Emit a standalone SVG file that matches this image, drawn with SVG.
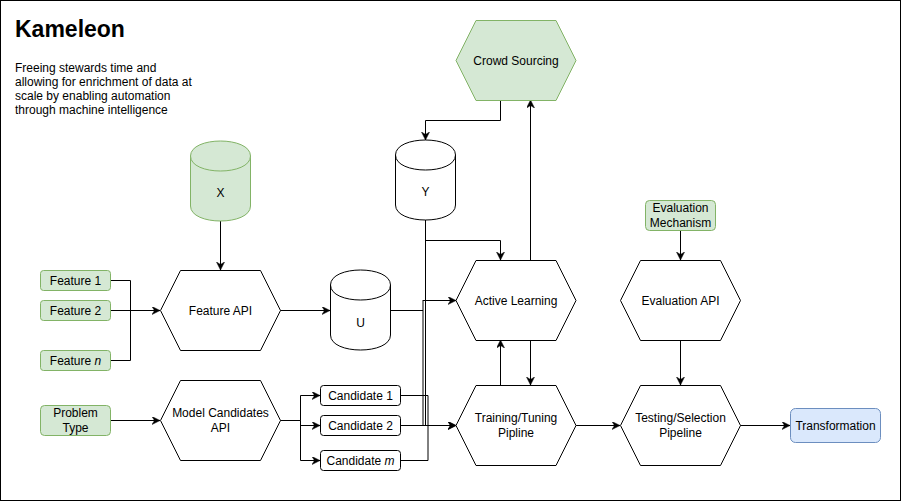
<svg xmlns="http://www.w3.org/2000/svg" width="901" height="501" viewBox="0 0 901 501">
<style>
text{font-family:"Liberation Sans",Arial,Helvetica,sans-serif;font-size:12px;fill:#000}
.c{text-anchor:middle}
.hex{fill:#fff;stroke:#000;stroke-width:1}
.cyl{fill:#fff;stroke:#000;stroke-width:1}
.green{fill:#d5e8d4;stroke:#82b366;stroke-width:1}
.blue{fill:#dae8fc;stroke:#6c8ebf;stroke-width:1}
.box{fill:#fff;stroke:#000;stroke-width:1}
.ln{fill:none;stroke:#000;stroke-width:1}
.ar{fill:none;stroke:#000;stroke-width:1;marker-end:url(#arr)}
</style>
<defs>
<marker id="arr" markerUnits="userSpaceOnUse" markerWidth="10" markerHeight="10" refX="8" refY="4" orient="auto">
<path d="M0,0 L8,4 L0,8 L2.5,4 Z" fill="#000" stroke="#000" stroke-width="0.5"/>
</marker>
</defs>
<rect x="0.5" y="0.5" width="900" height="500" fill="#fff" stroke="#000"/>

<g id="title">
<text x="15" y="37" style="font-size:23px;font-weight:bold">Kameleon</text>
<text x="15" y="72">Freeing stewards time and</text>
<text x="15" y="86">allowing for enrichment of data at</text>
<text x="15" y="100">scale by enabling automation</text>
<text x="15" y="114">through machine intelligence</text>
</g>

<g id="connectors">
<path class="ln" d="M110,280.5 H130.5 V310.5"/>
<path class="ar" d="M110,310.5 H160"/>
<path class="ln" d="M110,360.5 H130.5 V310.5"/>
<path class="ar" d="M110,420.5 H160"/>
<path class="ar" d="M220.5,221 V270"/>
<path class="ar" d="M280,310.5 H330"/>
<path class="ln" d="M280,420.5 H300.5"/>
<path class="ar" d="M300.5,420.5 V395.5 H320"/>
<path class="ar" d="M300.5,420.5 V425.5 H320"/>
<path class="ar" d="M300.5,420.5 V460.5 H320"/>
<path class="ln" d="M400,395.5 H428 V460.5 H400"/>
<path class="ar" d="M400,425.5 H456"/>
<path class="ln" d="M390,310.5 H423"/>
<path class="ln" d="M423,300 V425.5"/>
<path class="ar" d="M423,300.5 H456"/>
<path class="ar" d="M425.5,220 V425.5 H456"/>
<path class="ar" d="M425.5,240.5 H500.5 V260"/>
<path class="ar" d="M500.5,100 V120.5 H425.5 V140"/>
<path class="ar" d="M530.5,260 V100"/>
<path class="ar" d="M500.5,385 V340"/>
<path class="ar" d="M530.5,340 V385"/>
<path class="ar" d="M576,425.5 H620"/>
<path class="ar" d="M680.5,230 V260"/>
<path class="ar" d="M680.5,340 V385"/>
<path class="ar" d="M740,425.5 H790"/>
</g>

<g id="feature1"><rect class="green" x="40.5" y="270.5" width="70" height="20" rx="3"/><text class="c" x="75.5" y="285">Feature 1</text></g>
<g id="feature2"><rect class="green" x="40.5" y="300.5" width="70" height="20" rx="3"/><text class="c" x="75.5" y="315">Feature 2</text></g>
<g id="featuren"><rect class="green" x="40.5" y="350.5" width="70" height="20" rx="3"/><text class="c" x="75.5" y="365">Feature <tspan font-style="italic">n</tspan></text></g>
<g id="problemtype"><rect class="green" x="40.5" y="405.5" width="70" height="30" rx="4"/><text class="c" x="75.5" y="417">Problem</text><text class="c" x="75.5" y="432">Type</text></g>

<g id="X">
<path class="green" d="M190.5,156 C190.5,136 250.5,136 250.5,156 L250.5,206 C250.5,226 190.5,226 190.5,206 Z"/>
<path class="green" fill="none" d="M190.5,156 C190.5,176 250.5,176 250.5,156"/>
<text class="c" x="220.5" y="197">X</text>
</g>

<g id="Y">
<path class="cyl" d="M395.5,155 C395.5,135 455.5,135 455.5,155 L455.5,205 C455.5,225 395.5,225 395.5,205 Z"/>
<path class="ln" d="M395.5,155 C395.5,175 455.5,175 455.5,155"/>
<text class="c" x="425.5" y="196">Y</text>
</g>

<g id="U">
<path class="cyl" d="M330.5,285 C330.5,265 390.5,265 390.5,285 L390.5,335 C390.5,355 330.5,355 330.5,335 Z"/>
<path class="ln" d="M330.5,285 C330.5,305 390.5,305 390.5,285"/>
<text class="c" x="360.5" y="327">U</text>
</g>

<g id="featureapi"><path class="hex" d="M160.5,310.5 L180.5,270.5 L260.5,270.5 L280.5,310.5 L260.5,350.5 L180.5,350.5 Z"/><text class="c" x="220.5" y="315">Feature API</text></g>
<g id="modelcandidates"><path class="hex" d="M160.5,420.5 L180.5,380.5 L260.5,380.5 L280.5,420.5 L260.5,460.5 L180.5,460.5 Z"/><text class="c" x="220.5" y="417">Model Candidates</text><text class="c" x="220.5" y="432">API</text></g>

<g id="candidate1"><rect class="box" x="320.5" y="385.5" width="80" height="20" rx="3"/><text class="c" x="360.5" y="400">Candidate 1</text></g>
<g id="candidate2"><rect class="box" x="320.5" y="415.5" width="80" height="20" rx="3"/><text class="c" x="360.5" y="430">Candidate 2</text></g>
<g id="candidatem"><rect class="box" x="320.5" y="450.5" width="80" height="20" rx="3"/><text class="c" x="360.5" y="465">Candidate <tspan font-style="italic">m</tspan></text></g>

<g id="crowdsourcing"><path class="green" d="M456,60.5 L476,20.5 L556,20.5 L576,60.5 L556,100.5 L476,100.5 Z"/><text class="c" x="516" y="65">Crowd Sourcing</text></g>
<g id="activelearning"><path class="hex" d="M456,300.5 L476,260.5 L556,260.5 L576,300.5 L556,340.5 L476,340.5 Z"/><text class="c" x="516" y="305">Active Learning</text></g>
<g id="training"><path class="hex" d="M456,425.5 L476,385.5 L556,385.5 L576,425.5 L556,465.5 L476,465.5 Z"/><text class="c" x="516" y="422">Training/Tuning</text><text class="c" x="516" y="437">Pipline</text></g>

<g id="evalmechanism"><rect class="green" x="645.5" y="200.5" width="70" height="30" rx="4"/><text class="c" x="680.5" y="212">Evaluation</text><text class="c" x="680.5" y="227">Mechanism</text></g>
<g id="evalapi"><path class="hex" d="M620.5,300.5 L640.5,260.5 L720.5,260.5 L740.5,300.5 L720.5,340.5 L640.5,340.5 Z"/><text class="c" x="680.5" y="305">Evaluation API</text></g>
<g id="testing"><path class="hex" d="M620.5,425.5 L640.5,385.5 L720.5,385.5 L740.5,425.5 L720.5,465.5 L640.5,465.5 Z"/><text class="c" x="680.5" y="422">Testing/Selection</text><text class="c" x="680.5" y="437">Pipeline</text></g>
<g id="transformation"><rect class="blue" x="790.5" y="408.5" width="90" height="34" rx="5"/><text class="c" x="835.5" y="430">Transformation</text></g>
</svg>
